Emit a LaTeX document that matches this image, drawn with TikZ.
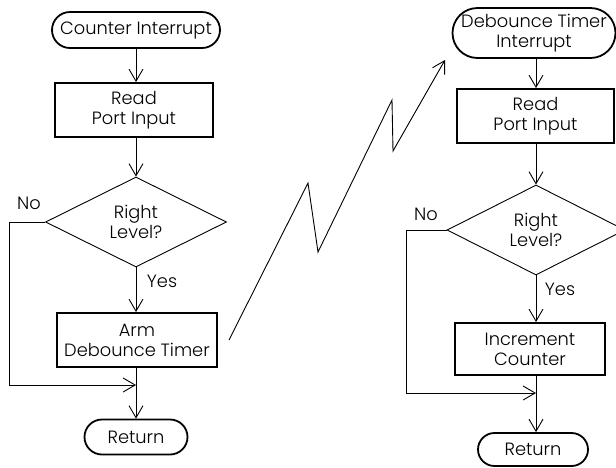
\documentclass[tikz,border=0pt]{standalone}
\usepackage{fontspec}
\setmainfont{Poppins Light}
\usetikzlibrary{arrows.meta,shapes.geometric}

\begin{document}
\begin{tikzpicture}[x=1pt,y=-1pt,
  txt/.style={font=\fontsize{17.8}{20}\selectfont, align=center, inner sep=0pt},
  term/.style={txt, draw, line width=1.8pt, rectangle},
  procbox/.style={txt, draw, line width=2pt, rectangle},
  decision/.style={txt, draw, line width=0.9pt, diamond, aspect=2},
  flow/.style={line width=0.9pt},
  arr/.style={flow, -{Straight Barb[length=12pt,width=14pt,line width=0.9pt]}},
  lbl/.style={font=\fontsize{17.8}{20}\selectfont, inner sep=0pt}
]
\useasboundingbox (0,0) rectangle (616,467);

% ---- counter interrupt handler ----
\coordinate (colL) at (136,0);
\node[term, minimum width=168pt, minimum height=36pt, rounded corners=18pt] (startL) at (136,30) {Counter Interrupt};
\node[procbox, minimum width=158pt, minimum height=54pt] (readL) at (134,110) {Read\\Port Input};
\node[decision, minimum width=181pt, minimum height=90pt] (decL) at (136,222) {Right\\Level?};
\node[procbox, minimum width=160pt, minimum height=54pt] (armL) at (137,340) {Arm\\Debounce Timer};
\node[term, minimum width=103pt, minimum height=35pt, rounded corners=17.5pt] (retL) at (136,437) {Return};
\node[lbl] (noL) at (29,203) {No};
\node[lbl] (yesL) at (162,281) {Yes};
\coordinate (mergeL) at (136,385);

\draw[arr] (colL |- startL.south) -- (colL |- readL.north);
\draw[arr] (colL |- readL.south) -- (decL.north);
\draw[arr] (decL.south) -- (colL |- armL.north);
\draw[flow] (colL |- armL.south) -- (mergeL);
\draw[arr] (decL.west) -- ++(-36,0) |- (mergeL);
\draw[arr] (mergeL) -- (colL |- retL.north);

% ---- debounce timer interrupt handler ----
\coordinate (colR) at (536,0);
\node[term, minimum width=163pt, minimum height=50pt, rounded corners=25pt] (startR) at (534,33) {Debounce Timer\\Interrupt};
\node[procbox, minimum width=157pt, minimum height=54pt] (readR) at (535.5,116) {Read\\Port Input};
\node[decision, minimum width=178pt, minimum height=90pt] (decR) at (536,230) {Right\\Level?};
\node[procbox, minimum width=150pt, minimum height=52pt] (incR) at (530,349) {Increment\\Counter};
\node[term, minimum width=110pt, minimum height=33pt, rounded corners=16.5pt] (retR) at (533,449.5) {Return};
\node[lbl] (noR) at (426,214) {No};
\node[lbl] (yesR) at (560,289) {Yes};
\coordinate (mergeR) at (536,393);

\draw[arr] (colR |- startR.south) -- (colR |- readR.north);
\draw[arr] (colR |- readR.south) -- (decR.north);
\draw[arr] (decR.south) -- (colR |- incR.north);
\draw[flow] (colR |- incR.south) -- (mergeR);
\draw[arr] (decR.west) -- ++(-40,0) |- (mergeR);
\draw[arr] (mergeR) -- (colR |- retR.north);

% ---- lightning link between the two handlers ----
\coordinate (z0) at (229,340);
\coordinate (z1) at (308,183);
\coordinate (z2) at (318,252);
\coordinate (z3) at (392,100);
\coordinate (z4) at (393,151);
\coordinate (z5) at (445,60);
\draw[arr, line join=miter] (z0) -- (z1) -- (z2) -- (z3) -- (z4) -- (z5);
\end{tikzpicture}
\end{document}
